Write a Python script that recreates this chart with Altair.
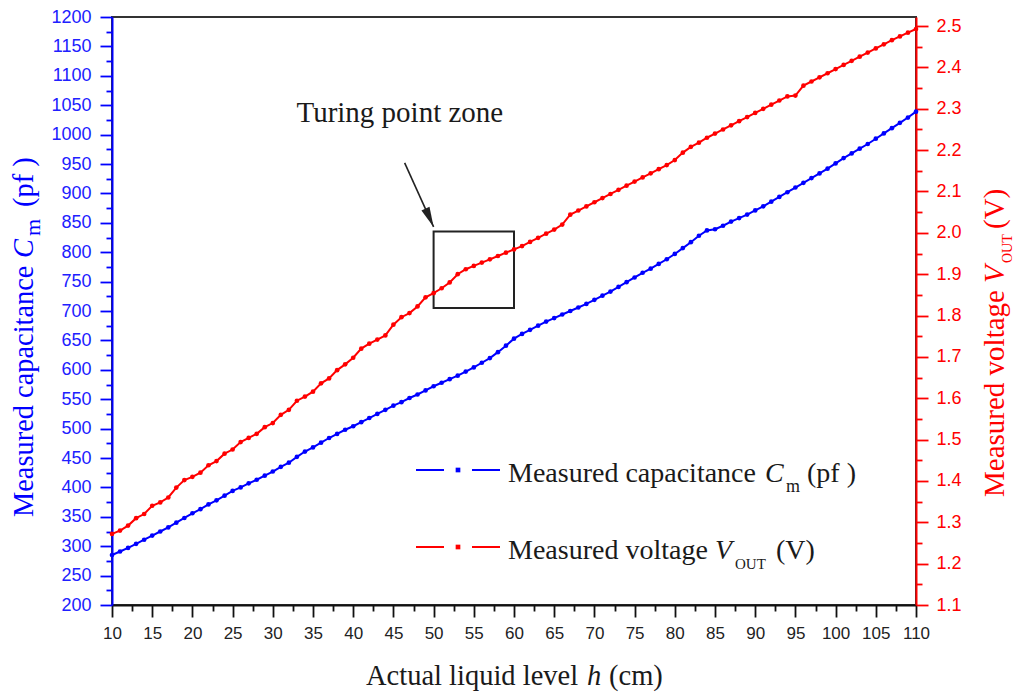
import altair as alt
import pandas as pd

BLUE = "#0000ff"
RED = "#ff0000"
INK = "#1a1a1a"
SERIF = "Liberation Serif"
SANS = "Liberation Sans"

# actual liquid level h (cm), one reading per cm
level = list(range(10, 111))

# measured capacitance Cm (pf)
capacitance = [
    285, 291, 297, 304, 311, 318, 325, 332, 340, 348,
    356, 363, 371, 378, 386, 394, 400, 407, 413, 420,
    427, 435, 442, 452, 461, 468, 476, 484, 491, 498,
    504, 511, 518, 525, 532, 539, 545, 552, 558, 565,
    572, 578, 584, 590, 597, 604, 612, 620, 630, 641,
    653, 661, 668, 675, 682, 688, 694, 700, 706, 712,
    719, 726, 733, 741, 749, 757, 765, 772, 780, 788,
    797, 807, 817, 828, 837, 839, 845, 852, 858, 864,
    871, 878, 886, 894, 902, 910, 918, 926, 934, 942,
    951, 960, 968, 976, 984, 993, 1002, 1011, 1020, 1029,
    1039,
]

# measured voltage VOUT (V)
voltage = [
    1.272, 1.280, 1.292, 1.310, 1.320, 1.340, 1.348, 1.360, 1.384, 1.402,
    1.410, 1.420, 1.438, 1.448, 1.466, 1.476, 1.494, 1.504, 1.514, 1.530,
    1.540, 1.560, 1.572, 1.594, 1.604, 1.616, 1.636, 1.648, 1.668, 1.682,
    1.698, 1.720, 1.732, 1.742, 1.752, 1.778, 1.796, 1.806, 1.822, 1.844,
    1.854, 1.866, 1.880, 1.900, 1.912, 1.920, 1.928, 1.936, 1.944, 1.952,
    1.960, 1.968, 1.978, 1.988, 1.998, 2.008, 2.020, 2.044, 2.054, 2.064,
    2.074, 2.084, 2.094, 2.104, 2.114, 2.124, 2.134, 2.144, 2.154, 2.164,
    2.176, 2.194, 2.208, 2.218, 2.230, 2.240, 2.250, 2.260, 2.270, 2.280,
    2.290, 2.300, 2.310, 2.320, 2.330, 2.332, 2.356, 2.366, 2.376, 2.386,
    2.396, 2.406, 2.416, 2.426, 2.436, 2.446, 2.456, 2.466, 2.475, 2.484,
    2.493,
]

# axis ticks (major + minor)
x_ticks = [10 + 2.5 * i for i in range(41)]
cap_ticks = [200 + 25 * i for i in range(41)]
volt_ticks = [round(1.1 + 0.05 * i, 2) for i in range(29)]

# "Turing point zone" box and arrow, in data units (h, pf)
zone = {"h0": 50, "h1": 60, "c0": 705, "c1": 835}
arrow = {"h0": 46.4, "c0": 952, "h1": 50.0, "c1": 843}
zone_label = "Turing point zone"

df = pd.DataFrame({"level": level, "cap": capacitance, "volt": voltage})

x_scale = alt.Scale(domain=[10, 110], nice=False, zero=False)
cap_scale = alt.Scale(domain=[200, 1200], nice=False, zero=False)
volt_scale = alt.Scale(domain=[1.1, 2.522], nice=False, zero=False)


def tick_size(test):
    return {"condition": {"test": test, "value": 12}, "value": 6}


common_axis = dict(
    grid=False, title=None, labelFont=SANS, labelOverlap=False,
    labelFlush=False, labelBound=False, domainWidth=2, tickWidth=1.8,
)

x_axis = alt.Axis(
    values=x_ticks, format="d", orient="bottom",
    labelExpr="datum.value % 5 === 0 ? datum.label : ''",
    tickSize=tick_size("datum.value % 5 === 0"),
    labelFontSize=17, labelColor="#222", labelPadding=8,
    domainColor="#111", tickColor="#111", **common_axis,
)
cap_axis = alt.Axis(
    values=cap_ticks, format="d", orient="left",
    labelExpr="datum.value % 50 === 0 ? datum.label : ''",
    tickSize=tick_size("datum.value % 50 === 0"),
    labelFontSize=18, labelColor="#2020ff", labelPadding=9,
    domainColor=BLUE, tickColor=BLUE, **common_axis,
)
volt_axis = alt.Axis(
    values=volt_ticks, format=".1f", orient="right",
    labelExpr="round(datum.value * 100) % 10 === 0 ? datum.label : ''",
    tickSize=tick_size("round(datum.value * 100) % 10 === 0"),
    labelFontSize=18, labelColor=RED, labelPadding=8,
    domainColor=RED, tickColor=RED, **common_axis,
)


def hx(field):
    return alt.X(field, type="quantitative", scale=x_scale, axis=x_axis)


def cy(field):
    return alt.Y(field, type="quantitative", scale=cap_scale, axis=cap_axis)


base = alt.Chart(df)

cap_line = base.mark_line(
    color=BLUE, strokeWidth=2,
    point=alt.OverlayMarkDef(color=BLUE, size=22, filled=True, opacity=1),
).encode(x=hx("level"), y=cy("cap"))

volt_line = base.mark_line(
    color=RED, strokeWidth=2,
    point=alt.OverlayMarkDef(color=RED, size=22, filled=True, opacity=1),
).encode(
    x=hx("level"),
    y=alt.Y("volt:Q", scale=volt_scale, axis=volt_axis),
)

zone_box = alt.Chart(pd.DataFrame([zone])).mark_rect(
    fillOpacity=0, stroke="#222", strokeWidth=2
).encode(x=hx("h0"), x2="h1:Q", y=cy("c0"), y2="c1:Q")

arrow_df = pd.DataFrame([arrow])
arrow_shaft = alt.Chart(arrow_df).mark_rule(color="#222", strokeWidth=1.6).encode(
    x=hx("h0"), x2="h1:Q", y=cy("c0"), y2="c1:Q"
)
arrow_head = alt.Chart(arrow_df).mark_point(
    shape="M0,0L-0.22,-1L0.22,-1Z", angle=336, size=1600,
    filled=True, color="#222", opacity=1,
).encode(x=hx("h1"), y=cy("c1"))

zone_text = alt.Chart(pd.DataFrame({"h": [45.8], "c": [1022], "t": [zone_label]})).mark_text(
    font=SERIF, fontSize=29, color=INK, align="center", baseline="alphabetic"
).encode(x=hx("h"), y=cy("c"), text="t:N")

# titles and legend text are set piece by piece (italics, subscripts);
# positions are pixels from the top-left of the plot area
pieces = pd.DataFrame(
    [
        ("Actual liquid level", 254, 668, 28.5, 0, INK, False),
        ("h", 475, 668, 28.5, 0, INK, True),
        ("(cm)", 497, 668, 28.5, 0, INK, False),
        ("Measured capacitance", -79, 500, 28.4, 270, BLUE, False),
        ("C", -79, 241, 28.4, 270, BLUE, True),
        ("m", -72, 219, 22, 270, BLUE, False),
        ("(pf )", -79, 190, 28.4, 270, BLUE, False),
        ("Measured voltage", 892, 480, 29, 270, RED, False),
        ("V", 892, 266, 29, 270, RED, True),
        ("OUT", 900, 246, 14, 270, RED, False),
        ("(V)", 892, 212, 29, 270, RED, False),
        ("Measured capacitance", 396, 465, 28, 0, INK, False),
        ("C", 653, 465, 28, 0, INK, True),
        ("m", 674, 475, 18, 0, INK, False),
        ("(pf )", 695, 465, 28, 0, INK, False),
        ("Measured voltage", 396, 542, 28, 0, INK, False),
        ("V", 603, 542, 28, 0, INK, True),
        ("OUT", 623, 552, 15, 0, INK, False),
        ("(V)", 664, 542, 28, 0, INK, False),
    ],
    columns=["text", "px", "py", "size", "angle", "color", "italic"],
)


def text_layer(italic):
    return alt.Chart(pieces[pieces["italic"] == italic]).mark_text(
        font=SERIF, align="left", baseline="alphabetic",
        fontStyle="italic" if italic else "normal",
    ).encode(
        x=alt.X("px:Q", scale=None),
        y=alt.Y("py:Q", scale=None),
        text="text:N",
        size=alt.Size("size:Q", scale=None),
        angle=alt.Angle("angle:Q", scale=None),
        color=alt.Color("color:N", scale=None),
    )


# legend keys: dash, dot, dash
legend_keys = pd.DataFrame({"py": [453, 530], "color": [BLUE, RED]})
key_enc = dict(y=alt.Y("py:Q", scale=None), color=alt.Color("color:N", scale=None))
key_left = alt.Chart(legend_keys).mark_rule(strokeWidth=2).encode(
    x=alt.value(304), x2=alt.value(332), **key_enc
)
key_right = alt.Chart(legend_keys).mark_rule(strokeWidth=2).encode(
    x=alt.value(360), x2=alt.value(388), **key_enc
)
key_dot = alt.Chart(legend_keys).mark_square(size=22, opacity=1).encode(
    x=alt.value(346), **key_enc
)

left_group = alt.layer(
    cap_line, zone_box, arrow_shaft, arrow_head, zone_text,
    key_left, key_right, key_dot, text_layer(False), text_layer(True),
)

chart = alt.layer(left_group, volt_line).resolve_scale(y="independent").properties(
    width=804, height=588,
    autosize=alt.AutoSizeParams(type="none"),
    padding={"left": 104, "top": 9, "right": 100, "bottom": 88},
).configure_view(stroke="#333", strokeWidth=2)

chart.save("out.html", embed_options={"renderer": "svg", "actions": False})
